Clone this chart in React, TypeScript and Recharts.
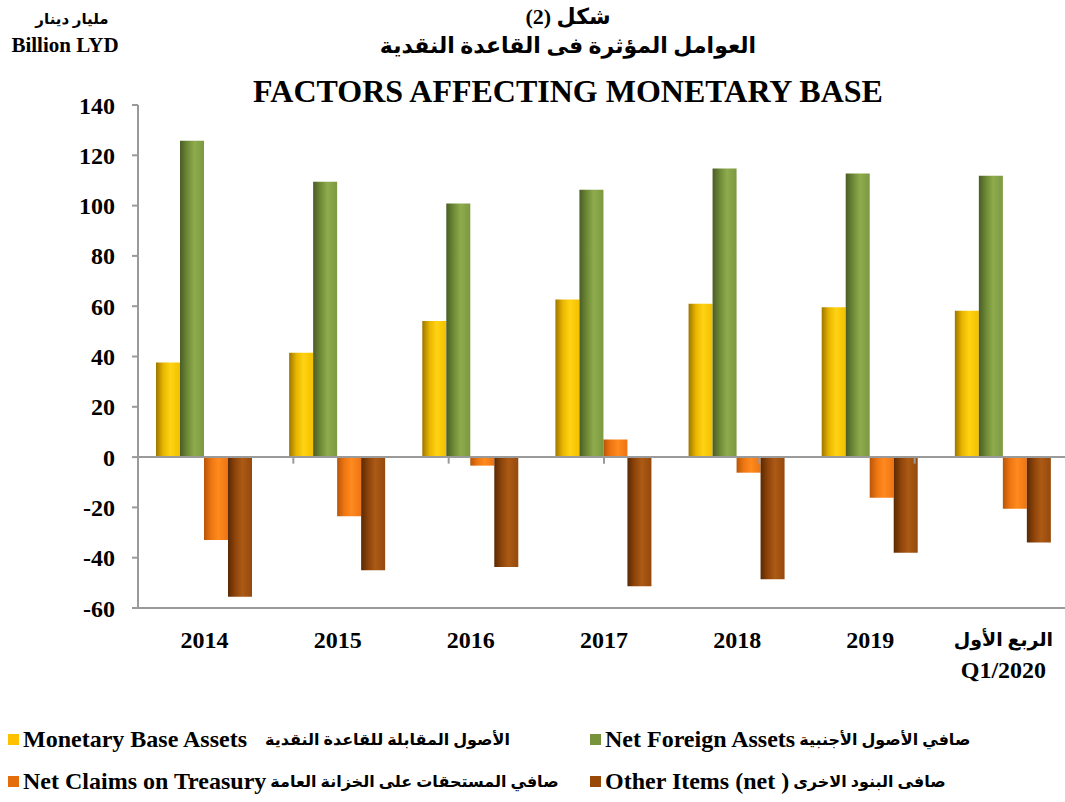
import { Bar, BarChart, ReferenceLine, XAxis, YAxis } from "recharts";

const categories = ["2014", "2015", "2016", "2017", "2018", "2019", "Q1/2020"];
const categoriesArabic = ["", "", "", "", "", "", "الربع الأول"];

const monetaryBaseAssets = [37.6, 41.5, 54.1, 62.7, 61.0, 59.6, 58.2];
const netForeignAssets = [125.8, 109.5, 100.8, 106.3, 114.8, 112.8, 111.9];
const netClaimsTreasury = [-33.0, -23.5, -3.4, 7.0, -6.2, -16.2, -20.5];
const otherItemsNet = [-55.5, -45.0, -43.7, -51.4, -48.6, -38.0, -34.0];

const yTicks = [-60, -40, -20, 0, 20, 40, 60, 80, 100, 120, 140];

const series = [
  { key: "mba", en: "Monetary Base Assets", ar: "الأصول المقابلة للقاعدة النقدية", color: "#FFC000", grad: "gYellow", values: monetaryBaseAssets },
  { key: "nfa", en: "Net Foreign Assets", ar: "صافي الأصول الأجنبية", color: "#77933C", grad: "gGreen", values: netForeignAssets },
  { key: "nct", en: "Net Claims on Treasury", ar: "صافي المستحقات على الخزانة العامة", color: "#E46C0A", grad: "gOrange", values: netClaimsTreasury },
  { key: "oin", en: "Other Items (net )", ar: "صافى البنود الاخرى", color: "#984807", grad: "gBrown", values: otherItemsNet }
];

const data = categories.map((c, i) => {
  const row: Record<string, string | number> = { name: c, ar: categoriesArabic[i] };
  series.forEach((s) => (row[s.key] = s.values[i]));
  return row;
});

const boundaries = categories.slice(1).map((_, i) => i + 1);

const serif = "'Liberation Serif', 'Times New Roman', 'DejaVu Serif', 'DejaVu Sans', serif";
const axisGray = "#9a9a9a";

function XTick({ x, y, payload, index }: any) {
  const ar = categoriesArabic[index];
  return (
    <g>
      {ar ? (
        <>
          <text x={x} y={y + 38} textAnchor="middle" fontFamily={serif} fontWeight="bold" fontSize={19} fill="#000">
            {ar}
          </text>
          <text x={x} y={y + 70} textAnchor="middle" fontFamily={serif} fontWeight="bold" fontSize={24} fill="#000">
            {payload.value}
          </text>
        </>
      ) : (
        <text x={x} y={y + 40} textAnchor="middle" fontFamily={serif} fontWeight="bold" fontSize={24} fill="#000">
          {payload.value}
        </text>
      )}
    </g>
  );
}

function Cylinder({ id, dark, mid, light, edge }: { id: string; dark: string; mid: string; light: string; edge: string }) {
  return (
    <linearGradient id={id} x1="0" x2="1" y1="0" y2="0">
      <stop offset="0%" stopColor={dark} />
      <stop offset="30%" stopColor={mid} />
      <stop offset="60%" stopColor={light} />
      <stop offset="100%" stopColor={edge} />
    </linearGradient>
  );
}

export default function App() {
  return (
    <div style={{ position: "absolute", left: 0, top: 0, width: 1065, height: 802, overflow: "hidden", background: "#fff", fontFamily: serif }}>
      <div style={{ position: "absolute", left: 0, top: 6, width: 130, textAlign: "center", fontWeight: "bold" }}>
        <div dir="rtl" style={{ fontSize: 15, lineHeight: "26px", paddingLeft: 14 }}>مليار دينار</div>
        <div style={{ fontSize: 21, lineHeight: "26px" }}>Billion LYD</div>
      </div>
      <div style={{ position: "absolute", left: 0, top: 2, width: 1136, textAlign: "center", fontWeight: "bold" }}>
        <div dir="rtl" style={{ fontSize: 22, lineHeight: "29px" }}>شكل (2)</div>
        <div dir="rtl" style={{ fontSize: 22, lineHeight: "30px" }}>العوامل المؤثرة  فى القاعدة النقدية</div>
        <div style={{ fontSize: 32, lineHeight: "36px", marginTop: 12 }}>FACTORS AFFECTING MONETARY BASE</div>
      </div>

      <BarChart
        width={1075}
        height={700}
        data={data}
        margin={{ top: 105, right: 5, bottom: 0, left: 0 }}
        barCategoryGap={18}
        barGap={0}
      >
        <defs>
          <Cylinder id="gYellow" dark="#9C7600" mid="#E9B500" light="#FFD313" edge="#F2C000" />
          <Cylinder id="gGreen" dark="#4A5D25" mid="#6D8936" light="#8EAC4C" edge="#7C9842" />
          <Cylinder id="gOrange" dark="#B85508" mid="#EE7612" light="#FF8A1E" edge="#EC7414" />
          <Cylinder id="gBrown" dark="#5A2903" mid="#8E440A" light="#AC5A15" edge="#95490C" />
        </defs>
        <XAxis
          dataKey="name"
          height={92}
          axisLine={{ stroke: axisGray, strokeWidth: 2 }}
          tickLine={false}
          tickSize={0}
          tickMargin={0}
          interval={0}
          tick={<XTick />}
        />
        <XAxis xAxisId="grid" type="number" domain={[0, categories.length]} hide />
        <YAxis
          width={138}
          domain={[-60, 140]}
          ticks={yTicks}
          interval={0}
          axisLine={{ stroke: axisGray, strokeWidth: 2 }}
          tickLine={{ stroke: axisGray, strokeWidth: 2 }}
          tickSize={6}
          tickMargin={17}
          tick={{ fill: "#000", fontFamily: serif, fontWeight: "bold", fontSize: 24 }}
        />
        {series.map((s) => (
          <Bar key={s.key} dataKey={s.key} name={s.en} fill={`url(#${s.grad})`} isAnimationActive={false} />
        ))}
        <ReferenceLine y={0} stroke={axisGray} strokeWidth={2} />
        {boundaries.map((b) => (
          <ReferenceLine
            key={b}
            xAxisId="grid"
            segment={[
              { x: b, y: 0 },
              { x: b, y: -2.6 }
            ]}
            stroke={axisGray}
            strokeWidth={2}
          />
        ))}
      </BarChart>

      <div style={{ position: "absolute", left: 0, top: 724, width: 1065, fontWeight: "bold" }}>
        {[0, 1].map((row) => (
          <div key={row} style={{ position: "relative", height: 42 }}>
            {[0, 1].map((col) => {
              const s = series[row * 2 + col];
              return (
                <div key={s.key} style={{ position: "absolute", left: col === 0 ? 8 : 590, top: 0, display: "flex", alignItems: "center", height: 30, whiteSpace: "pre" }}>
                  <span style={{ display: "inline-block", width: 11, height: 11, background: s.color, marginRight: 4 }} />
                  <span style={{ fontSize: 24 }}>{s.en}</span>
                  <span style={{ fontSize: 16, marginLeft: row * 2 + col === 0 ? 18 : 4 }}>{s.ar}</span>
                </div>
              );
            })}
          </div>
        ))}
      </div>
    </div>
  );
}
